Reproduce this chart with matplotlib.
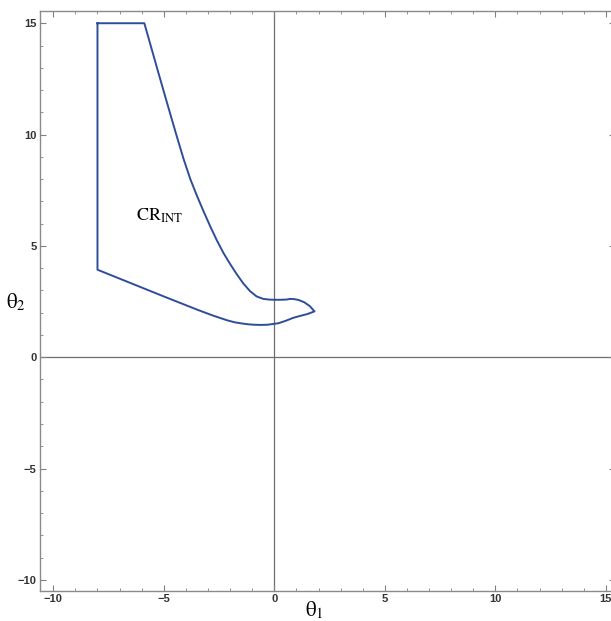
import matplotlib
matplotlib.use("Agg")
import matplotlib.pyplot as plt
from matplotlib.ticker import MultipleLocator

plt.rcParams["mathtext.fontset"] = "stix"

# boundary of the region, traced clockwise from the top-left corner
region_x = [-8.0, -5.88, -5.6, -5.3, -5.0, -4.7, -4.4, -4.1, -3.8, -3.5,
            -3.2, -2.9, -2.6, -2.3, -2.0, -1.7, -1.4, -1.1, -0.8, -0.5,
            -0.25, 0.0, 0.3, 0.55, 0.72, 0.9, 1.1, 1.35, 1.6, 1.82,
            1.5, 1.15, 0.86, 0.5, 0.2, 0.0, -0.3, -0.6, -0.93, -1.2,
            -1.5, -1.8, -2.14, -2.8, -3.5, -5.0, -6.5, -8.0, -8.0]
region_y = [15.0, 15.0, 14.02, 12.97, 11.93, 10.9, 9.88, 8.89, 8.0, 7.25,
            6.55, 5.88, 5.25, 4.68, 4.19, 3.73, 3.31, 2.97, 2.73, 2.62,
            2.59, 2.58, 2.58, 2.59, 2.62, 2.61, 2.57, 2.47, 2.3, 2.06,
            1.94, 1.85, 1.77, 1.63, 1.53, 1.5, 1.46, 1.45, 1.46, 1.48,
            1.52, 1.57, 1.66, 1.88, 2.14, 2.73, 3.33, 3.93, 15.0]

fig = plt.figure(figsize=(6.11, 6.21), dpi=100)
ax = fig.add_axes([0.0655, 0.0483, 0.9405, 0.934])

ax.plot(region_x, region_y, color="#2d4d9c", lw=1.4, zorder=3, solid_joinstyle="round")

ax.axhline(0, color="#6e6e6e", lw=0.9, zorder=1)
ax.axvline(0, color="#6e6e6e", lw=0.9, zorder=1)

ax.set_xlim(-10.6, 15.4)
ax.set_ylim(-10.5, 15.55)

ax.xaxis.set_major_locator(MultipleLocator(5))
ax.yaxis.set_major_locator(MultipleLocator(5))
ax.xaxis.set_minor_locator(MultipleLocator(1))
ax.yaxis.set_minor_locator(MultipleLocator(1))
ax.tick_params(which="both", direction="in", top=True, right=True, color="#808080")
ax.tick_params(which="major", length=4, width=0.8, labelsize=8, pad=2.5, labelcolor="#333333")
ax.tick_params(which="minor", length=2.2, width=0.6)
for lab in ax.get_xticklabels() + ax.get_yticklabels():
    lab.set_fontweight("bold")
    lab.set_family("Liberation Sans")
for sp in ax.spines.values():
    sp.set_color("#8a8a8a")
    sp.set_linewidth(1.0)

ax.text(-5.2, 6.35, r"$\mathrm{CR}_{\mathrm{INT}}$", fontsize=13, ha="center", va="center")

fig.text(314 / 611, 1 - 610 / 621, r"$\mathrm{\theta}_{1}$", fontsize=15, ha="center", va="center")
fig.text(16 / 611, 1 - 302 / 621, r"$\mathrm{\theta}_{2}$", fontsize=15, ha="center", va="center")

fig.savefig("out.png", dpi=100)
